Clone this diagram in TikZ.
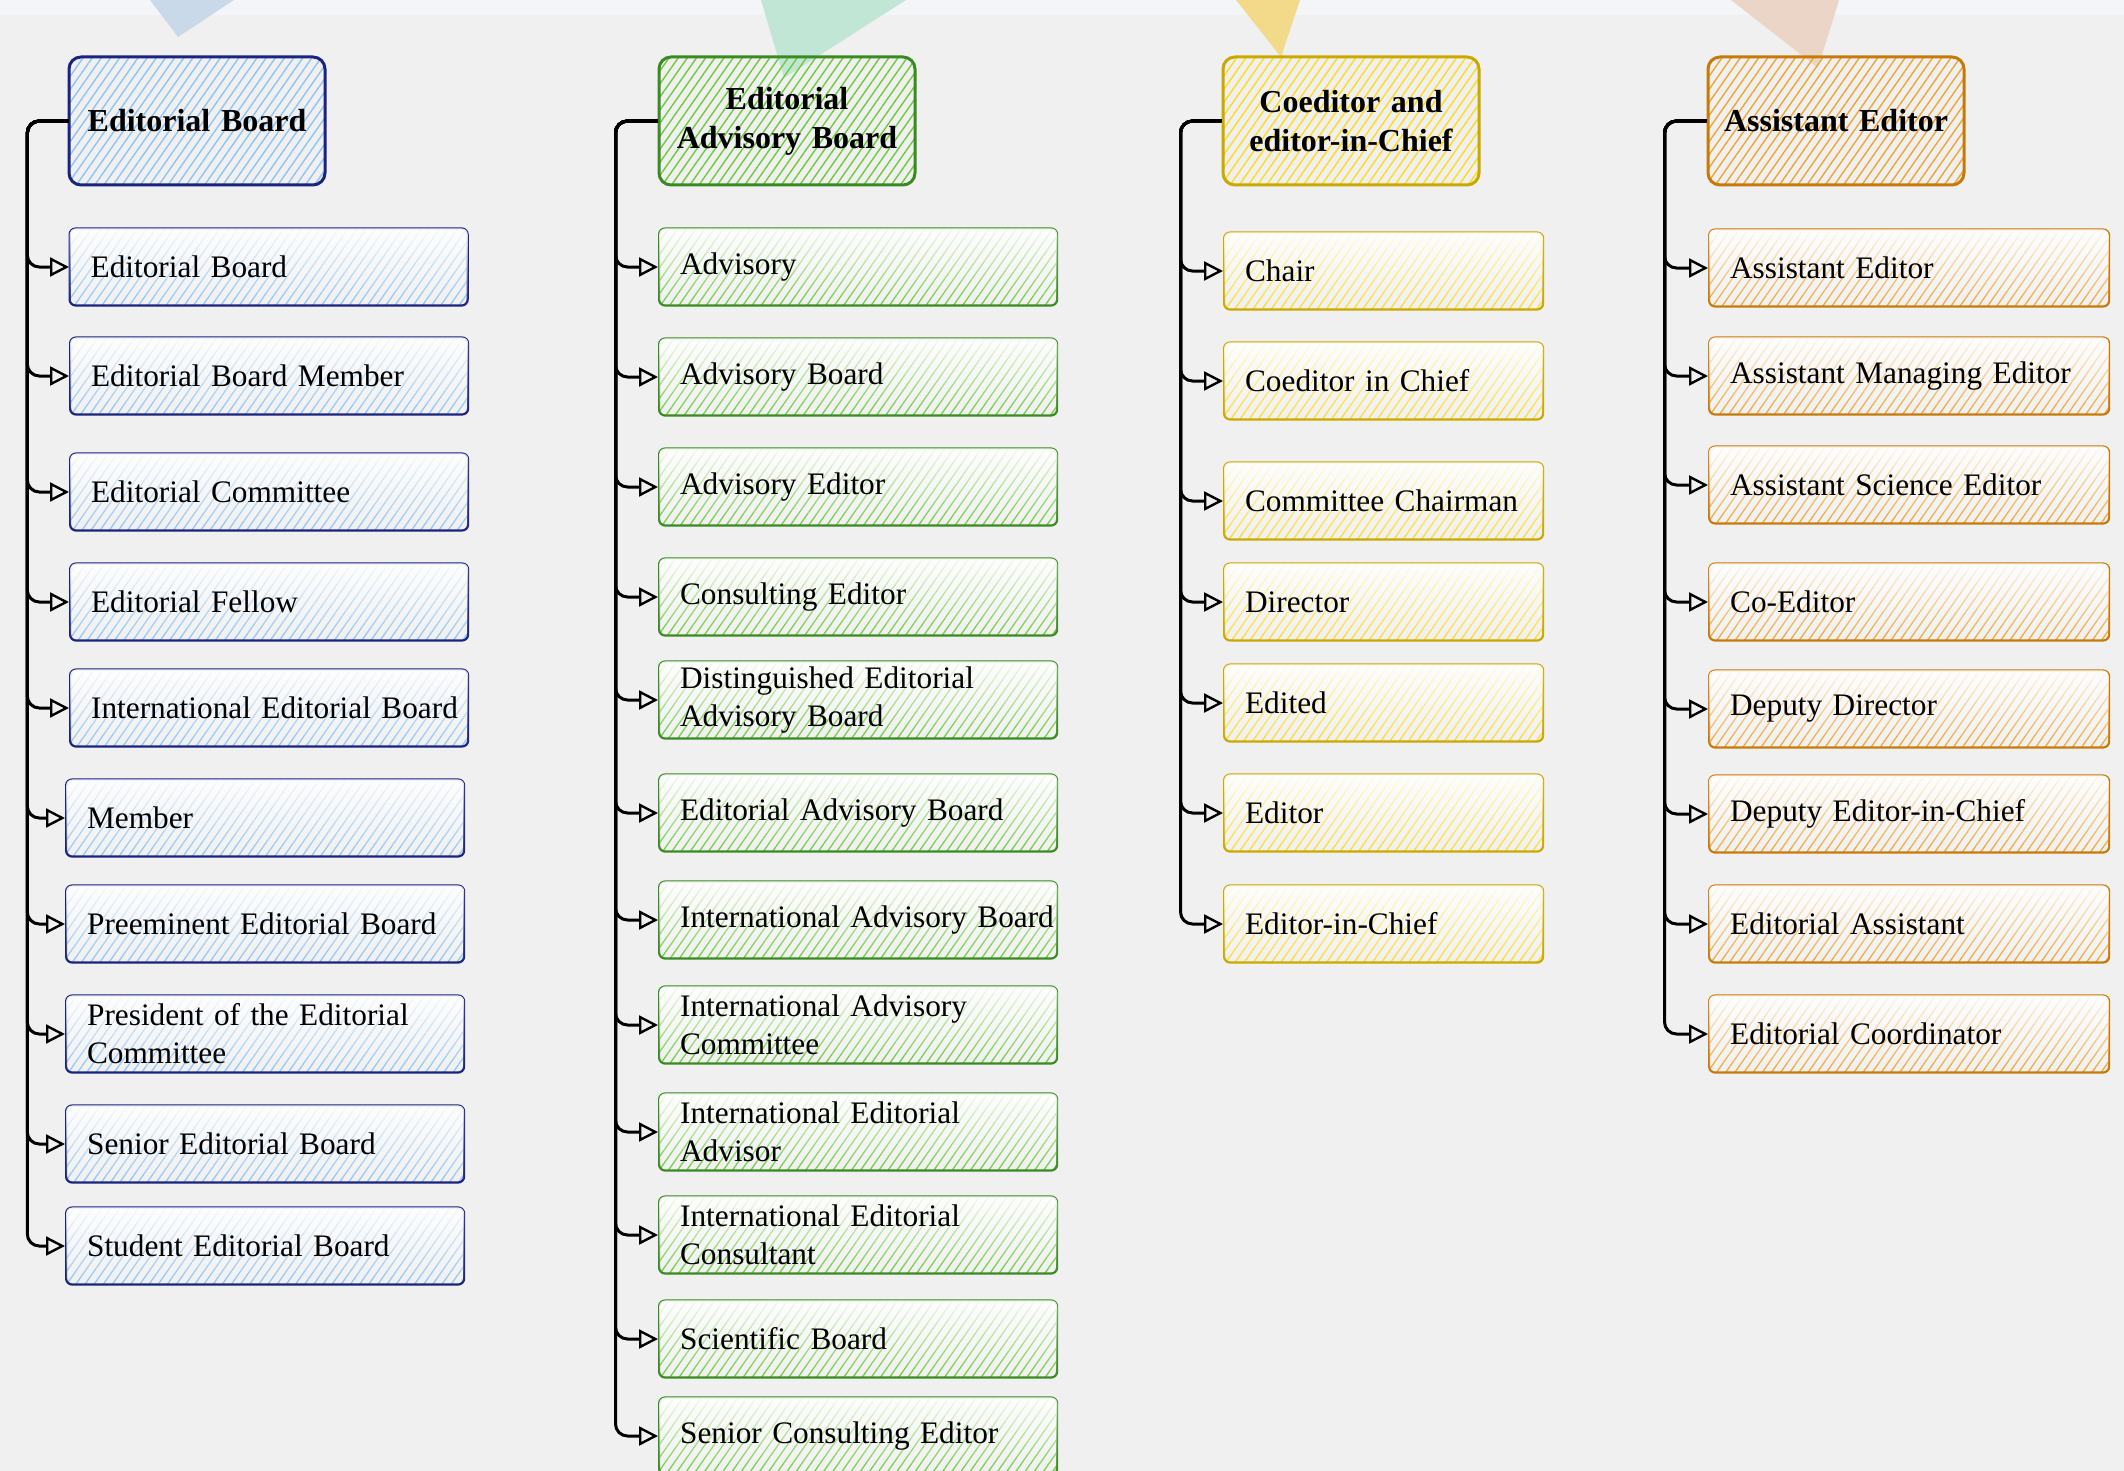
\documentclass[tikz,border=0pt]{standalone}
\usepackage{fontspec}
\setmainfont{Liberation Serif}
\usetikzlibrary{arrows.meta, patterns.meta, fadings}

\definecolor{bgc}{HTML}{F0F0F0}
\definecolor{bandc}{HTML}{F3F5F8}
\definecolor{ebline}{HTML}{1A237E}
\definecolor{ebhatch}{HTML}{8EC3F5}
\definecolor{ebtri}{HTML}{C9D9E9}
\definecolor{eabline}{HTML}{3A8A22}
\definecolor{eabhatch}{HTML}{6DCB3B}
\definecolor{eabtri}{HTML}{C2E6D5}
\definecolor{celine}{HTML}{C9A800}
\definecolor{cehatch}{HTML}{FFDB1F}
\definecolor{cetri}{HTML}{F3DA8A}
\definecolor{aeline}{HTML}{C77A0A}
\definecolor{aehatch}{HTML}{EFA531}
\definecolor{aetri}{HTML}{EAD5C6}

\tikzfading[name=gloss, top color=transparent!0, middle color=transparent!100, bottom color=transparent!100]

\begin{document}
\begin{tikzpicture}[
    x=1pt, y=-1pt,
    headbox/.style={draw=#1line, line width=3pt, rounded corners=12pt,
        pattern={Lines[angle=55, distance=7.5pt, line width=1.4pt]}, pattern color=#1hatch,
        minimum height=128pt, text width=256pt, inner xsep=0pt, align=center,
        font=\fontsize{32}{39}\selectfont\bfseries},
    itembox/.style={draw=#1line, line width=2.2pt, rounded corners=6pt,
        pattern={Lines[angle=55, distance=7.5pt, line width=1.3pt]}, pattern color=#1hatch,
        postaction={fill=white, fill opacity=0.92, path fading=gloss},
        minimum height=77pt, inner xsep=0pt, align=left, anchor=west,
        font=\fontsize{31.3}{38}\selectfont, execute at begin node={\leftskip=21pt}},
    link/.style={-{Triangle[open, length=19pt, width=19pt, line width=2.4pt]}, line width=3pt, rounded corners=12pt, black}
]

% Background and top band
\useasboundingbox (0,0) rectangle (2124,1471);
\fill[bgc] (0,0) rectangle (2124,1471);
\fill[bandc] (0,0) rectangle (2124,15);

% Pointers at the top
\fill[ebtri] (150,0) -- (234,0) -- (178,37) -- cycle;
\fill[eabtri] (761,0) -- (906,0) -- (784,78) -- cycle;
\fill[cetri] (1236,0) -- (1300,0) -- (1281,57) -- cycle;
\fill[aetri] (1731,0) -- (1839,0) -- (1818,68) -- cycle;

% Headers
\node[headbox=eb] (eb) at (197,121) {Editorial Board};
\node[headbox=eab] (eab) at (787,121) {Editorial\\Advisory Board};
\node[headbox=ce] (ce) at (1351,121) {Coeditor and\\editor-in-Chief};
\node[headbox=ae] (ae) at (1836,121) {Assistant Editor};

% Editorial Board column
\foreach \i/\x/\y/\txt in {1/69/267/Editorial Board, 2/69/376/Editorial Board Member,
    3/69/492/Editorial Committee, 4/69/602/Editorial Fellow,
    5/69/708/International Editorial Board, 6/65/818/Member,
    7/65/924/Preeminent Editorial Board, 8/65/1034/President of the Editorial\\Committee,
    9/65/1144/Senior Editorial Board, 10/65/1246/Student Editorial Board} {
    \node[itembox=eb, text width=398pt] (eb\i) at (\x,\y) {\txt};
    \draw[link] (eb.west) -- ++(-41,0) |- (eb\i.west);
}

% Editorial Advisory Board column
\foreach \i/\y/\txt in {1/267/Advisory, 2/377/Advisory Board, 3/487/Advisory Editor,
    4/597/Consulting Editor, 5/700/Distinguished Editorial\\Advisory Board,
    6/813/Editorial Advisory Board, 7/920/International Advisory Board,
    8/1025/International Advisory\\Committee, 9/1132/International Editorial\\Advisor,
    10/1235/International Editorial\\Consultant, 11/1339/Scientific Board,
    12/1436/Senior Consulting Editor} {
    \node[itembox=eab, text width=398pt] (eab\i) at (658,\y) {\txt};
    \draw[link] (eab.west) -- ++(-42,0) |- (eab\i.west);
}

% Coeditor column
\foreach \i/\y/\txt in {1/271/Chair, 2/381/Coeditor in Chief, 3/501/Committee Chairman,
    4/602/Director, 5/703/Edited, 6/813/Editor, 7/924/Editor-in-Chief} {
    \node[itembox=ce, text width=319pt] (ce\i) at (1223,\y) {\txt};
    \draw[link] (ce.west) -- ++(-41,0) |- (ce\i.west);
}

% Assistant Editor column
\foreach \i/\y/\txt in {1/268/Assistant Editor, 2/376/Assistant Managing Editor,
    3/485/Assistant Science Editor, 4/602/Co-Editor, 5/709/Deputy Director,
    6/814/Deputy Editor-in-Chief, 7/924/Editorial Assistant, 8/1034/Editorial Coordinator} {
    \node[itembox=ae, text width=400pt] (ae\i) at (1708,\y) {\txt};
    \draw[link] (ae.west) -- ++(-42,0) |- (ae\i.west);
}

\end{tikzpicture}
\end{document}
